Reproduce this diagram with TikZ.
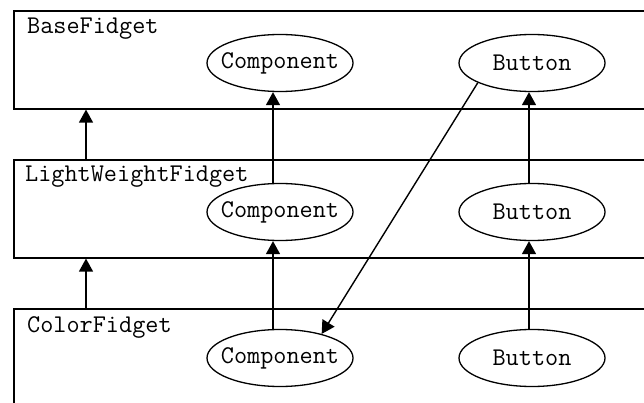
\documentclass[tikz,border=0pt]{standalone}
\usetikzlibrary{shapes.geometric,arrows.meta}
\newcommand{\zw}[1]{\makebox[0pt]{#1}}
\begin{document}
\begin{tikzpicture}[x=1pt,y=-1pt,
  box/.style={draw,line width=1.6pt,rectangle,minimum width=660pt,minimum height=98pt,anchor=north west,inner sep=0pt},
  boxlabel/.style={anchor=base west,inner sep=0pt,font=\ttfamily\fontsize{25.5}{30}\selectfont},
  comp/.style={draw,line width=1.3pt,ellipse,minimum width=146pt,minimum height=57pt,inner sep=0pt,font=\ttfamily\fontsize{25.5}{30}\selectfont},
  arr/.style={line width=1.4pt,-{Triangle[length=13pt,width=14pt]}}]
\useasboundingbox (0,0) rectangle (644,403);
\clip (0,0) rectangle (644,403);
\node[box] (b1) at (13,10) {};
\node[box] (b2) at (13,159) {};
\node[box,minimum height=150pt] (b3) at (13,308) {};
\node[boxlabel] (l1) at (27,34) {BaseFidget};
\node[boxlabel] (l2) at (25,182) {LightWeightFidget};
\node[boxlabel] (l3) at (27,332) {ColorFidget};
\node[comp] (tc) at (280,63) {\zw{Component}};
\node[comp] (tb) at (532,63) {\zw{Button}};
\node[comp] (mc) at (280,212) {\zw{Component}};
\node[comp] (mb) at (532,212) {\zw{Button}};
\node[comp] (bc) at (280,358) {\zw{Component}};
\node[comp] (bb) at (532,358) {\zw{Button}};
\coordinate (xa) at (86,0);
\coordinate (xc) at (273,0);
\coordinate (xb) at (529,0);
\draw[arr] (b2.north -| xa) -- (b1.south -| xa);
\draw[arr] (b3.north -| xa) -- (b2.south -| xa);
\draw[arr] (mc.north -| xc) -- (tc.south -| xc);
\draw[arr] (bc.north -| xc) -- (mc.south -| xc);
\draw[arr] (mb.north -| xb) -- (tb.south -| xb);
\draw[arr] (bb.north -| xb) -- (mb.south -| xb);
\draw[arr] (tb.200) -- (bc.30);
\end{tikzpicture}
\end{document}
